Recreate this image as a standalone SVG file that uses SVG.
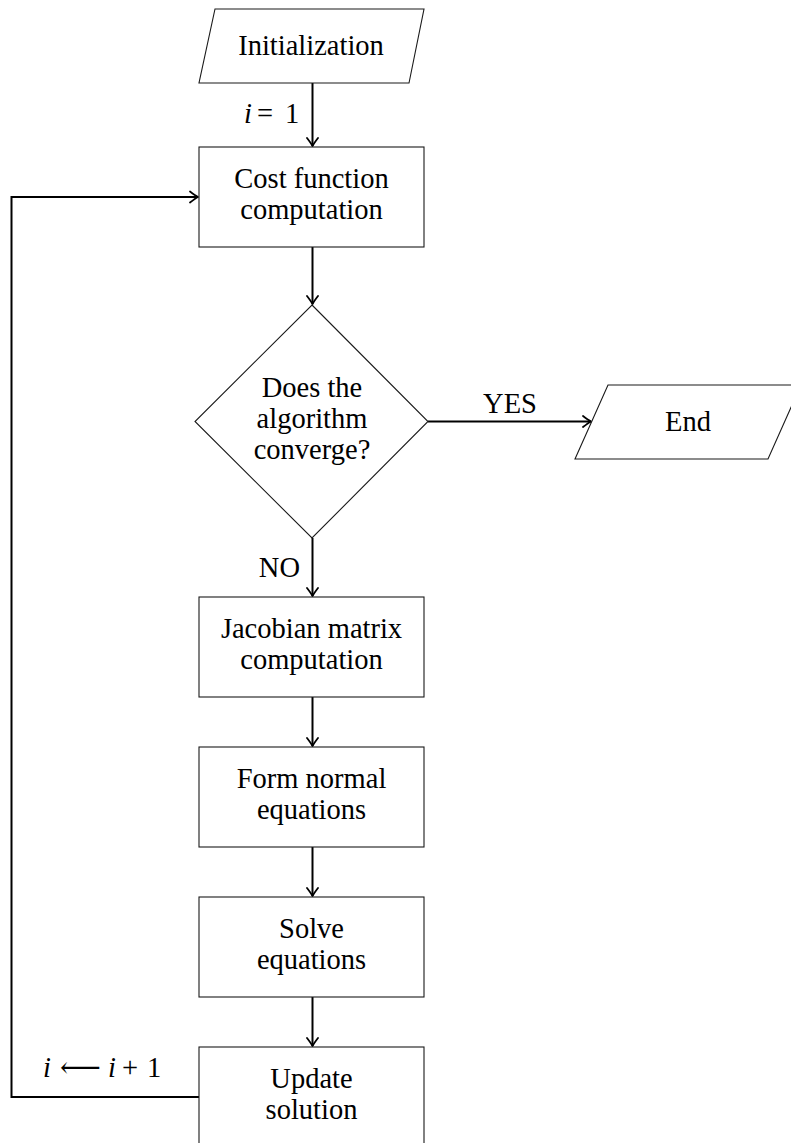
<svg xmlns="http://www.w3.org/2000/svg" width="791" height="1143" viewBox="0 0 791 1143">
  <style>
    .node { fill: #ffffff; stroke: #1a1a1a; stroke-width: 1.1; }
    .lbl { font-family: "Liberation Serif", "DejaVu Serif", serif; font-size: 28.5px; fill: #000000; }
    .c { text-anchor: middle; }
    .conn { fill: none; stroke: #000000; stroke-width: 2; }
    .it { font-style: italic; }
  </style>
  <defs>
    <marker id="arr" markerUnits="userSpaceOnUse" markerWidth="14" markerHeight="14" viewBox="-9 -7 11 14" refX="0" refY="0" orient="auto">
      <path d="M -8,-5.5 Q -2.5,-1.3 0,0 Q -2.5,1.3 -8,5.5" fill="none" stroke="#000000" stroke-width="1.8" stroke-linecap="round" stroke-linejoin="round"/>
    </marker>
  </defs>
  <rect width="791" height="1143" fill="#ffffff"/>

  <g id="connectors">
    <line class="conn" x1="312.5" y1="83" x2="312.5" y2="146" marker-end="url(#arr)"/>
    <line class="conn" x1="312.5" y1="247" x2="312.5" y2="304" marker-end="url(#arr)"/>
    <line class="conn" x1="428" y1="421.5" x2="591" y2="421.5" marker-end="url(#arr)"/>
    <line class="conn" x1="312.5" y1="538" x2="312.5" y2="596" marker-end="url(#arr)"/>
    <line class="conn" x1="312.5" y1="697" x2="312.5" y2="746" marker-end="url(#arr)"/>
    <line class="conn" x1="312.5" y1="847" x2="312.5" y2="896" marker-end="url(#arr)"/>
    <line class="conn" x1="312.5" y1="997" x2="312.5" y2="1046" marker-end="url(#arr)"/>
    <polyline class="conn" points="199,1097 11.5,1097 11.5,197 198,197" marker-end="url(#arr)"/>
    <text class="lbl" x="244" y="123"><tspan class="it">i</tspan><tspan x="257">=</tspan><tspan x="285">1</tspan></text>
    <text class="lbl" x="510" y="413" text-anchor="middle">YES</text>
    <text class="lbl" x="300" y="577" text-anchor="end">NO</text>
    <text class="lbl" x="43" y="1077"><tspan class="it">i</tspan><tspan x="60">⟵</tspan><tspan x="108" class="it">i</tspan><tspan x="122">+</tspan><tspan x="147">1</tspan></text>
  </g>

  <g id="init">
    <polygon class="node" points="215,9 424,9 409,83 199,83"/>
    <text class="lbl c" x="311" y="55">Initialization</text>
  </g>

  <g id="cost">
    <rect class="node" x="199" y="147" width="225" height="100"/>
    <text class="lbl c" x="311.5" y="188">Cost function</text>
    <text class="lbl c" x="311.5" y="219">computation</text>
  </g>

  <g id="converge">
    <polygon class="node" points="312,305 428,421.5 312,538 195,421.5"/>
    <text class="lbl c" x="312" y="397">Does the</text>
    <text class="lbl c" x="312" y="428">algorithm</text>
    <text class="lbl c" x="312" y="459">converge?</text>
  </g>

  <g id="end">
    <polygon class="node" points="608,385 801,385 768,459 575,459"/>
    <text class="lbl c" x="688" y="431">End</text>
  </g>

  <g id="jacobian">
    <rect class="node" x="199" y="597" width="225" height="100"/>
    <text class="lbl c" x="311.5" y="638">Jacobian matrix</text>
    <text class="lbl c" x="311.5" y="669">computation</text>
  </g>

  <g id="normal">
    <rect class="node" x="199" y="747" width="225" height="100"/>
    <text class="lbl c" x="311.5" y="788">Form normal</text>
    <text class="lbl c" x="311.5" y="819">equations</text>
  </g>

  <g id="solve">
    <rect class="node" x="199" y="897" width="225" height="100"/>
    <text class="lbl c" x="311.5" y="938">Solve</text>
    <text class="lbl c" x="311.5" y="969">equations</text>
  </g>

  <g id="update">
    <rect class="node" x="199" y="1047" width="225" height="100"/>
    <text class="lbl c" x="311.5" y="1088">Update</text>
    <text class="lbl c" x="311.5" y="1119">solution</text>
  </g>
</svg>
